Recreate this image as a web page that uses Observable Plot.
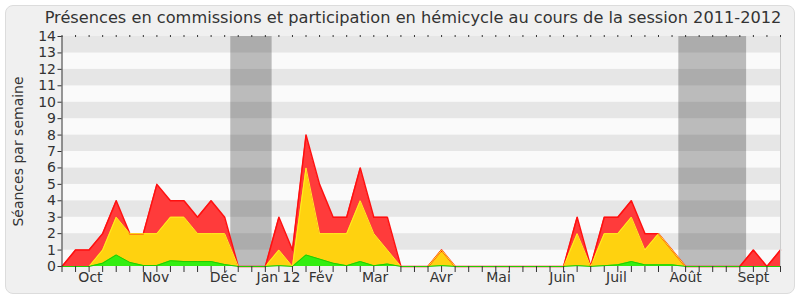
<!DOCTYPE html>
<html>
<head>
<meta charset="utf-8">
<script src="https://cdn.jsdelivr.net/npm/d3@7"></script>
<script src="https://cdn.jsdelivr.net/npm/@observablehq/plot@0.6"></script>
<style>
  html, body { margin: 0; padding: 0; background: #ffffff; }
  #wrap { position: relative; width: 800px; height: 300px; overflow: hidden; font-family: "DejaVu Sans", sans-serif; }
  #frame { position: absolute; left: 5px; top: 5px; width: 788px; height: 287px; border: 1px solid #dcdcdc; border-radius: 8px; background: #f0f0f0; }
  #title { position: absolute; left: 0; top: 8px; width: 826px; text-align: center; font-size: 16.2px; line-height: 19px; color: #333333; white-space: nowrap; }
  #chart { position: absolute; left: 0; top: 30px; }
</style>
</head>
<body>
<div id="wrap">
  <div id="frame"></div>
  <div id="title">Présences en commissions et participation en hémicycle au cours de la session 2011-2012</div>
  <div id="chart"></div>
</div>
<script>
// Weekly values (week index 0..53), per stacked series
const weeks = d3.range(0, 54);
const greenSeries = [0,0,0,0.2,0.7,0.25,0.06,0.06,0.35,0.3,0.3,0.3,0.12,0,0,0,0.05,0,0.7,0.45,0.2,0.05,0.3,0.05,0.15,0,0,0,0.05,0,0,0,0,0,0,0,0,0,0.05,0,0.05,0.1,0.3,0.1,0.1,0.1,0,0,0,0,0,0,0,0];
const yellowSeries = [0,0,0,0.8,2.3,1.75,1.94,1.94,2.65,2.7,1.7,1.7,1.88,0,0,0,0.95,0,5.3,1.55,1.8,1.95,3.7,1.95,0.85,0,0,0,0.95,0,0,0,0,0,0,0,0,0,1.95,0,1.95,1.9,2.7,0.9,1.9,0.9,0,0,0,0,0,0,0,0];
const redSeries = [0,1,1,1,1,0,0,3,1,1,1,2,1,0,0,0,2,1,2,3,1,1,2,1,2,0,0,0,0,0,0,0,0,0,0,0,0,0,1,0,1,1,1,1,0,0,0,0,0,0,0,1,0,1];

// Month labels and their positions (in week index units)
const monthLabels = ["Oct","Nov","Déc","Jan 12","Fév","Mar","Avr","Mai","Juin","Juil","Août","Sept"];
const monthPos = [2.1,6.9,11.9,15.97,19.1,23.1,27.96,32.2,36.9,40.9,46.0,51.0];

// Holiday periods (week index units)
const holidayStart = [12.45, 45.5];
const holidayEnd = [15.5, 50.5];

const yTicks = d3.range(0, 15);

// Build table
const rows = weeks.map((w, i) => {
  const g = greenSeries[i];
  const y = g + yellowSeries[i];
  const t = y + redSeries[i];
  return {w, g, y, t};
});
const stripes = d3.range(0, 14).map(k => ({k}));
const holidays = holidayStart.map((s, i) => ({s, e: holidayEnd[i]}));
const labelByPos = new Map(monthPos.map((p, i) => [p, monthLabels[i]]));

const plot = Plot.plot({
  width: 800,
  height: 270,
  marginLeft: 61.5,
  marginRight: 20,
  marginTop: 6,
  marginBottom: 34,
  style: {background: "transparent", fontFamily: "DejaVu Sans, sans-serif", fontSize: "13px", color: "#333", overflow: "visible"},
  x: {domain: [0, 53], axis: null},
  y: {domain: [0, 14], axis: null},
  marks: [
    Plot.rect(stripes, {x1: 0, x2: 53, y1: d => d.k, y2: d => d.k + 1, fill: d => d.k % 2 === 0 ? "#fafafa" : "#e6e6e6"}),
    Plot.rect(holidays, {x1: "s", x2: "e", y1: 0, y2: 14, fill: "#000", fillOpacity: 0.25}),
    Plot.areaY(rows, {x: "w", y1: 0, y2: "t", fill: "#ff3b3b"}),
    Plot.areaY(rows, {x: "w", y1: 0, y2: "y", fill: "#ffd20f"}),
    Plot.areaY(rows, {x: "w", y1: 0, y2: "g", fill: "#33ee11"}),
    Plot.lineY(rows, {x: "w", y: "t", stroke: "#ff1010", strokeWidth: 1.5}),
    Plot.lineY(rows, {x: "w", y: "y", stroke: "#ffee22", strokeWidth: 1}),
    Plot.lineY(rows, {x: "w", y: "g", stroke: "#22cc00", strokeWidth: 1}),
    Plot.ruleX([53], {y1: 0, y2: 14, stroke: "#cccccc"}),
    Plot.ruleX([0], {y1: 0, y2: 14, stroke: "#333", strokeWidth: 1}),
    Plot.axisY({ticks: yTicks, tickSize: 4, tickPadding: 2, fontSize: 14, stroke: "#333", color: "#333", label: null}),
    Plot.axisX({ticks: weeks, tickSize: 6, tickFormat: () => "", stroke: "#333", label: null}),
    Plot.axisX({anchor: "top", ticks: weeks, tickSize: 2, tickFormat: () => "", stroke: "#333", label: null}),
    Plot.axisX({ticks: monthPos, tickSize: 0, tickPadding: 6, fontSize: 14, tickFormat: d => labelByPos.get(d), color: "#333", label: null}),
    Plot.text(["Séances par semaine"], {frameAnchor: "left", textAnchor: "middle", rotate: -90, dx: -43.5, fontSize: 14, fill: "#333"})
  ]
});
document.getElementById("chart").appendChild(plot);
</script>
</body>
</html>
